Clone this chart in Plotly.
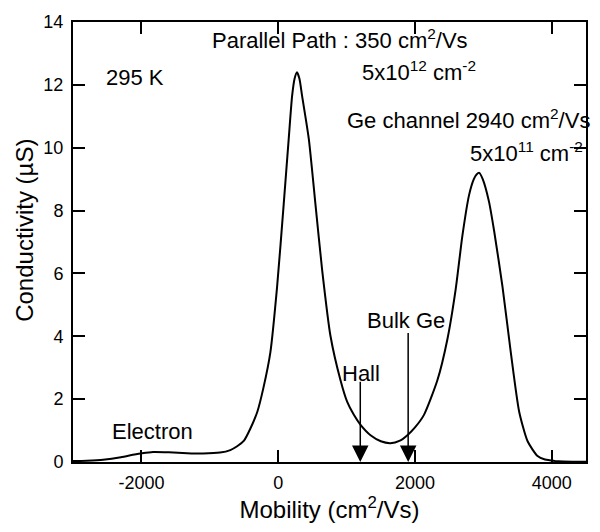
import plotly.graph_objects as go

# Data
mobility = [-3000, -2800, -2560, -2300, -2100, -1990, -1830, -1600, -1330, -1100,
            -850, -700, -600, -500, -410, -305, -217, -115, -16, 80,
            154, 203, 240, 275, 310, 350, 447, 545, 643, 765, 911, 1009,
            1106, 1204, 1350, 1500, 1640, 1780, 1897, 2000, 2131, 2327,
            2473, 2595, 2693, 2791, 2860, 2900, 2940, 2990, 3080, 3157, 3279,
            3401, 3523, 3646, 3792, 3900, 3987, 4100, 4300, 4500]
conductivity = [0.03, 0.04, 0.07, 0.15, 0.24, 0.28, 0.32, 0.31, 0.28, 0.27,
                0.30, 0.38, 0.50, 0.68, 1.05, 1.6, 2.35, 3.48, 5.58, 8.19,
                10.29, 11.64, 12.2, 12.4, 12.2, 11.64, 10.29, 8.19, 6.1, 4.0, 2.6, 1.91,
                1.5, 1.18, 0.85, 0.66, 0.60, 0.68, 0.87, 1.1, 1.5, 2.6,
                3.9, 5.5, 7.2, 8.5, 9.0, 9.15, 9.2, 9.0, 8.3, 7.35, 5.58,
                3.48, 1.6, 0.66, 0.19, 0.08, 0.05, 0.02, 0.01, 0.01]

x_ticks = [-2000, 0, 2000, 4000]
x_ticklabels = ["-2000", "0", "2000", "4000"]
y_ticks = [0, 2, 4, 6, 8, 10, 12, 14]

arrow_labels = ["Hall", "Bulk Ge"]
arrow_x = [1200, 1900]
arrow_top = [2.6, 4.15]

FONT = "Liberation Sans, Arial, Helvetica, sans-serif"

fig = go.Figure()
fig.add_trace(go.Scatter(
    x=mobility, y=conductivity, mode="lines",
    line=dict(color="black", width=2, shape="spline", smoothing=0.6),
    showlegend=False, hoverinfo="skip"))

axis_common = dict(
    showline=True, linecolor="black", linewidth=2, mirror="ticks",
    ticks="inside", ticklen=12, tickwidth=1.5, tickcolor="black",
    showgrid=False, zeroline=False,
    tickfont=dict(family=FONT, size=18, color="black"),
)

fig.update_xaxes(range=[-3000, 4500], tickvals=x_ticks, ticktext=x_ticklabels,
                 ticklabelstandoff=3,
                 title=dict(text="Mobility (cm<sup>2</sup>/Vs)",
                            font=dict(family=FONT, size=24, color="black"),
                            standoff=6),
                 **axis_common)
fig.update_yaxes(range=[0, 14], tickvals=y_ticks, ticklabelstandoff=4,
                 **axis_common)

annos = []
# y axis title
annos.append(dict(text="Conductivity (µS)", xref="paper", yref="paper",
                  x=-0.095, y=0.526, xanchor="center", yanchor="middle",
                  textangle=-90, showarrow=False,
                  font=dict(family=FONT, size=24, color="black")))

def txt(s, x, y, size=22):
    annos.append(dict(text=s, x=x, y=y, xref="x", yref="y",
                      xanchor="left", yanchor="middle", showarrow=False,
                      font=dict(family=FONT, size=size, color="black")))

txt("295 K", -2540, 12.25, 22)
txt("Parallel Path : 350 cm<sup>2</sup>/Vs", -990, 13.45)
txt("5x10<sup>12</sup> cm<sup>-2</sup>", 1190, 12.45)
txt("Ge channel 2940 cm<sup>2</sup>/Vs", 970, 10.9)
txt("5x10<sup>11</sup> cm<sup>-2</sup>", 2775, 9.85)
txt("Electron", -2460, 0.98)
txt("Hall", 910, 2.83)
txt("Bulk Ge", 1262, 4.49)

for lbl, ax_, top in zip(arrow_labels, arrow_x, arrow_top):
    annos.append(dict(text="", x=ax_, y=0, ax=ax_, ay=top,
                      xref="x", yref="y", axref="x", ayref="y",
                      showarrow=True, arrowhead=2, arrowsize=2.2,
                      arrowwidth=1.5, arrowcolor="black", standoff=0))

fig.update_layout(
    width=600, height=532,
    margin=dict(l=73, r=14, t=15, b=70),
    paper_bgcolor="white", plot_bgcolor="white",
    annotations=annos,
    font=dict(family=FONT, color="black"),
)

fig.write_html("out.html")
